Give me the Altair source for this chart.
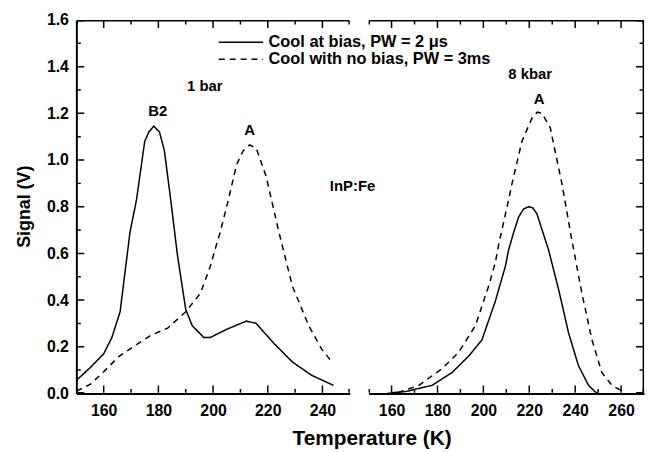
import altair as alt
import pandas as pd

# ---------------- data ----------------
# 1 bar panel
left_solid_T = [150, 155, 160, 163, 166, 167.8, 169.6, 172, 175, 176.5, 178.3, 180.4, 182.2, 184.5,
                187, 190, 192.4, 196.6, 199, 205, 212.2, 215.8, 221.8, 229, 236, 244]
left_solid_V = [0.056, 0.11, 0.17, 0.24, 0.35, 0.52, 0.69, 0.83, 1.08, 1.12, 1.145, 1.12, 1.04, 0.83,
                0.59, 0.36, 0.29, 0.24, 0.24, 0.275, 0.31, 0.30, 0.22, 0.135, 0.078, 0.035]
left_dash_T = [150, 155.2, 160.6, 165.4, 171.4, 177.4, 183.4, 190, 195.4, 199, 200.8, 202.6, 205.6,
               208.6, 211, 213.4, 215.8, 219.4, 224.1, 229, 235, 239.7, 243.8]
left_dash_V = [0.01, 0.04, 0.10, 0.157, 0.205, 0.25, 0.28, 0.35, 0.43, 0.545, 0.62, 0.69, 0.83,
               0.98, 1.04, 1.065, 1.05, 0.93, 0.69, 0.46, 0.29, 0.19, 0.13]
# 8 kbar panel
right_solid_T = [160, 166, 177.7, 186.4, 193.6, 199.4, 205.2, 209.6, 211, 213.2, 215.4, 217.5, 219.7,
                 221.5, 223.3, 228.4, 232.8, 237.1, 241.4, 245.8, 248.7, 250]
right_solid_V = [0.003, 0.008, 0.035, 0.09, 0.16, 0.23, 0.395, 0.545, 0.615, 0.69, 0.757, 0.79, 0.80,
                 0.795, 0.77, 0.615, 0.445, 0.26, 0.12, 0.035, 0.007, 0.0]
right_dash_T = [158, 163.2, 171.9, 182, 189.3, 196.5, 202.3, 205.2, 206.7, 211, 212.5, 216.8, 221.2,
                223.5, 225.5, 229.1, 234.2, 238.5, 242.9, 247.3, 251.6, 256, 261]
right_dash_V = [0.0, 0.005, 0.035, 0.106, 0.177, 0.29, 0.46, 0.56, 0.64, 0.83, 0.90, 1.08, 1.18,
                1.205, 1.20, 1.14, 0.90, 0.66, 0.43, 0.23, 0.09, 0.035, 0.007]

series_names = ["Cool at bias, PW = 2 \u03bcs", "Cool with no bias, PW = 3ms"]

left_domain = [150, 250]
right_domain = [150, 270]
y_domain = [0.0, 1.6]
left_major = [160, 180, 200, 220, 240]
left_minor = [150, 170, 190, 210, 230, 250]
right_major = [160, 180, 200, 220, 240, 260]
right_minor = [150, 170, 190, 210, 230, 250, 270]
y_major = [0.0, 0.2, 0.4, 0.6, 0.8, 1.0, 1.2, 1.4, 1.6]
y_minor = [0.1, 0.3, 0.5, 0.7, 0.9, 1.1, 1.3, 1.5]

left_labels = ["1 bar", "B2", "A"]
left_label_T = [197, 179.8, 213.4]
left_label_V = [1.316, 1.21, 1.13]
sample_label = "InP:Fe"
sample_T = 242.7
sample_V = 0.89
right_labels = ["8 kbar", "A"]
right_label_T = [220.4, 224.3]
right_label_V = [1.37, 1.26]

legend_line_T = [202.1, 218.3]
legend_text_T = 220.3
legend_V = [1.505, 1.432]

# ---------------- layout ----------------
WL, WR, H = 276, 278, 377
GAP = 19
FONT = "Liberation Sans"
MAJ_PX, MIN_PX = 8, 4.5
EDGE_PX = 0.7

STYLES = ["solid", "dash"]
DASHES = [[1, 0], [6, 5]]

ys = alt.Scale(domain=y_domain, nice=False, zero=False)
xl_scale = alt.Scale(domain=left_domain, nice=False, zero=False)
xr_scale = alt.Scale(domain=right_domain, nice=False, zero=False)

axis_common = dict(
    ticks=False, grid=False, domainColor="black", domainWidth=2,
    labelFont=FONT, labelFontSize=16, labelFontWeight="bold", labelColor="black",
    labelFlush=False, labelOverlap=False,
)

xl_axis = alt.Axis(
    values=left_major, orient="bottom", format="d", labelPadding=9,
    title="Temperature  (K)", titleX=298, titleY=46, titleAlign="center",
    titleBaseline="middle", titleFont=FONT, titleFontSize=21, titleFontWeight="bold",
    titleColor="black", **axis_common)
xr_axis = alt.Axis(values=right_major, orient="bottom", format="d", labelPadding=9,
                   title=None, **axis_common)
yl_axis = alt.Axis(
    values=y_major, orient="left", format=".1f", labelPadding=8,
    title="Signal  (V)", titleX=-52, titleY=188, titleAngle=270, titleAlign="center",
    titleBaseline="middle", titleFont=FONT, titleFontSize=18, titleFontWeight="bold",
    titleColor="black", **axis_common)


def panel_lines(sT, sV, dT, dV, dom, major, minor, width, side, legend):
    """Curves, inward ticks, open frame and legend keys of a panel in one table."""
    rows = []
    seg = [0]

    def add(points, style):
        for t, v in points:
            rows.append((t, v, seg[0], style))
        seg[0] += 1

    add(list(zip(sT, sV)), "solid")
    add(list(zip(dT, dV)), "dash")
    if legend:
        add([(legend_line_T[0], legend_V[0]), (legend_line_T[1], legend_V[0])], "solid")
        add([(legend_line_T[0], legend_V[1]), (legend_line_T[1], legend_V[1])], "dash")
    px_per_v = H / (y_domain[1] - y_domain[0])
    px_per_t = width / (dom[1] - dom[0])
    v_lo = y_domain[0] + EDGE_PX / px_per_v
    v_hi = y_domain[1] - EDGE_PX / px_per_v
    t_lo = dom[0] + EDGE_PX / px_per_t
    t_hi = dom[1] - EDGE_PX / px_per_t
    # open frame
    add([(t_lo, v_hi), (t_hi, v_hi)], "solid")
    if side == "right":
        add([(t_hi, v_lo), (t_hi, v_hi)], "solid")
    # inward ticks
    for vals, px in ((major, MAJ_PX), (minor, MIN_PX)):
        dv = px / px_per_v
        for t in vals:
            tc = min(max(t, t_lo), t_hi)
            add([(tc, v_lo), (tc, y_domain[0] + dv)], "solid")
            add([(tc, y_domain[1] - dv), (tc, v_hi)], "solid")
    for vals, px in ((y_major, MAJ_PX), (y_minor, MIN_PX)):
        dt = px / px_per_t
        for v in vals:
            vc = min(max(v, v_lo), v_hi)
            if side == "left":
                add([(t_lo, vc), (dom[0] + dt, vc)], "solid")
            else:
                add([(dom[1] - dt, vc), (t_hi, vc)], "solid")
    return pd.DataFrame(rows, columns=["T", "V", "seg", "style"])


def panel(sT, sV, dT, dV, xscale, xaxis, yaxis, dom, major, minor, width, side, extra):
    def X():
        return alt.X("T:Q", scale=xscale, axis=xaxis)

    def Y():
        return alt.Y("V:Q", scale=ys, axis=yaxis)

    df = panel_lines(sT, sV, dT, dV, dom, major, minor, width, side, side == "left")
    lines = alt.Chart(df).mark_line(color="black", strokeWidth=1.5).encode(
        x=X(), y=Y(), detail="seg:N",
        strokeDash=alt.StrokeDash("style:N", scale=alt.Scale(domain=STYLES, range=DASHES),
                                  legend=None),
    )
    layers = [lines] + extra(X, Y)
    return alt.layer(*layers).properties(width=width, height=H)


def left_extra(X, Y):
    out = []
    df = pd.DataFrame({"T": left_label_T, "V": left_label_V, "label": left_labels})
    out.append(alt.Chart(df).mark_text(
        font=FONT, fontSize=15, fontWeight="bold", color="black", align="center",
        baseline="middle").encode(x=X(), y=Y(), text="label:N"))
    sdf = pd.DataFrame({"T": [sample_T], "V": [sample_V], "label": [sample_label]})
    out.append(alt.Chart(sdf).mark_text(
        font=FONT, fontSize=15, fontWeight="bold", color="black", align="left",
        baseline="middle").encode(x=X(), y=Y(), text="label:N"))
    leg_text = pd.DataFrame({"T": [legend_text_T] * 2, "V": legend_V, "label": series_names})
    out.append(alt.Chart(leg_text).mark_text(
        font=FONT, fontSize=16.5, fontWeight="bold", color="black", align="left",
        baseline="middle").encode(x=X(), y=Y(), text="label:N"))
    return out


def right_extra(X, Y):
    df = pd.DataFrame({"T": right_label_T, "V": right_label_V, "label": right_labels})
    return [alt.Chart(df).mark_text(
        font=FONT, fontSize=15, fontWeight="bold", color="black", align="center",
        baseline="middle").encode(x=X(), y=Y(), text="label:N")]


left = panel(left_solid_T, left_solid_V, left_dash_T, left_dash_V, xl_scale, xl_axis, yl_axis,
             left_domain, left_major, left_minor, WL, "left", left_extra)
right = panel(right_solid_T, right_solid_V, right_dash_T, right_dash_V, xr_scale, xr_axis, None,
              right_domain, right_major, right_minor, WR, "right", right_extra)

chart = alt.hconcat(left, right, spacing=GAP, bounds="flush").properties(
    padding={"left": 8, "top": 2, "right": 0, "bottom": 0},
    background="white",
).configure_view(stroke=None)

chart.save("out.html", embed_options={"renderer": "svg", "actions": False})
